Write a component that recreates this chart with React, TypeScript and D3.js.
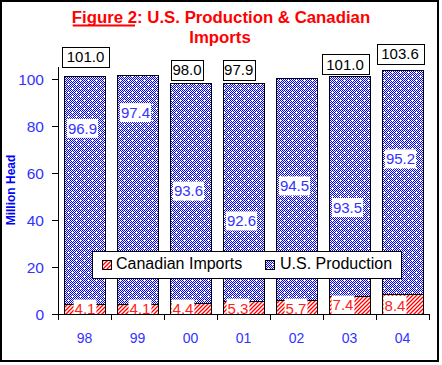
import React from 'react';
import * as d3 from 'd3';

// chart data
const years = ['98', '99', '00', '01', '02', '03', '04'];
const usProduction = [96.9, 97.4, 93.6, 92.6, 94.5, 93.5, 95.2];
const canadianImports = [4.1, 4.1, 4.4, 5.3, 5.7, 7.4, 8.4];
const totalLabels = ['101.0', null, '98.0', '97.9', null, '101.0', '103.6'];
const yTicks = [0, 20, 40, 60, 80, 100];

// hand placed labels (like in the original sheet): px nudges / value positions
const totalNudge = [[1, -19.6], [0, 0], [-3.5, -13.7], [-4.8, -14], [0, 0], [-4.5, -12.6], [-2.5, -16.5]];
const usLabelAt = [79, 85.7, 52.3, 39.6, 54.5, 45.3, 66];
const canLabelDx = [0.5, 2.5, -7.5, -5.5, -0.5, -6.5, -7.5];
const canLabelAt = [2.1, 2.1, 2.1, 2.5, 2.5, 3.8, 3.7];

const W = 442;
const H = 365;
const BLUE = '#3333ff';
const RED = '#ff2020';
const LABEL_FONT = 15;

// rough text width for Arial digits
const textW = (s: string, size: number) =>
  s.split('').reduce((a, c) => a + (c === '.' ? 0.278 : 0.556) * size, 0);

export default function App() {
  const x = d3
    .scaleBand<string>()
    .domain(years)
    .range([58, 429])
    .paddingInner(12 / 53)
    .paddingOuter(6 / 53);
  const y = d3.scaleLinear().domain([0, 105]).range([314, 67.25]);
  const bw = x.bandwidth();
  const step = x.step();
  const x0 = x.range()[0];

  const font = 'Arial, "Liberation Sans", sans-serif';

  // 8x8 checker pattern with white dots for U.S. production
  const checker: [number, number][] = [];
  for (let i = 0; i < 8; i++) {
    for (let j = 0; j < 8; j++) {
      if ((i + j) % 2 === 0 && !((i === 0 && j === 0) || (i === 4 && j === 4))) checker.push([i, j]);
    }
  }

  return (
    <svg
      width={W}
      height={H}
      style={{ position: 'absolute', left: 0, top: 0, background: '#fff' }}
      fontFamily={font}
    >
      <defs>
        <pattern id="usPat" width={8} height={8} patternUnits="userSpaceOnUse">
          <rect width={8} height={8} fill="#fff" />
          {checker.map(([i, j]) => (
            <rect key={i + '-' + j} x={i} y={j} width={1} height={1} fill="#0000ff" shapeRendering="crispEdges" />
          ))}
        </pattern>
        <pattern id="canPat" width={4} height={4} patternUnits="userSpaceOnUse">
          <rect width={4} height={4} fill="#fff" />
          <path d="M-1,1 L1,-1 M0,4 L4,0 M3,5 L5,3" stroke="#ff0000" strokeWidth={1.3} />
        </pattern>
      </defs>

      <rect x={1} y={1} width={437} height={360} fill="#fff" stroke="#000" strokeWidth={2} />

      {/* title */}
      <text x={221} y={22.5} textAnchor="middle" fill="#ff0000" fontWeight="bold" fontSize={16.8}>
        Figure 2: U.S. Production &amp; Canadian
      </text>
      <line x1={72.7} x2={135} y1={25.5} y2={25.5} stroke="#ff0000" strokeWidth={2} />
      <text x={220} y={43.3} textAnchor="middle" fill="#ff0000" fontWeight="bold" fontSize={16.8}>
        Imports
      </text>

      {/* y axis title */}
      <text
        transform="translate(15,190) rotate(-90)"
        textAnchor="middle"
        fill="#0000ff"
        fontWeight="bold"
        fontSize={12}
      >
        Million Head
      </text>

      {/* bars */}
      {years.map((yr, i) => {
        const c = canadianImports[i];
        const t = c + usProduction[i];
        return (
          <g key={yr} shapeRendering="crispEdges">
            <rect x={x(yr)} y={y(t)} width={bw} height={y(c) - y(t)} fill="url(#usPat)" stroke="#000" />
            <rect x={x(yr)} y={y(c)} width={bw} height={y(0) - y(c)} fill="url(#canPat)" stroke="#000" />
          </g>
        );
      })}

      {/* U.S. production labels */}
      {years.map((yr, i) => {
        const s = usProduction[i].toFixed(1);
        const cx = (x(yr) as number) + bw / 2 - 2;
        const cy = y(usLabelAt[i]);
        const tw = textW(s, LABEL_FONT);
        return (
          <g key={'us' + yr}>
            <rect x={cx - tw / 2 - 1} y={cy - 9.5} width={tw + 2} height={19} fill="#fff" />
            <text x={cx} y={cy + 5.4} textAnchor="middle" fill={BLUE} fontSize={LABEL_FONT}>
              {s}
            </text>
          </g>
        );
      })}

      {/* Canadian labels */}
      {years.map((yr, i) => {
        const s = canadianImports[i].toFixed(1);
        const cx = (x(yr) as number) + bw / 2 + canLabelDx[i];
        const cy = y(canLabelAt[i]);
        const tw = textW(s, LABEL_FONT);
        return (
          <g key={'can' + yr}>
            <rect x={cx - tw / 2 - 1} y={cy - 9.5} width={tw + 2} height={19} fill="#fff" />
            <text x={cx} y={cy + 5.4} textAnchor="middle" fill={RED} fontSize={LABEL_FONT}>
              {s}
            </text>
          </g>
        );
      })}

      {/* total labels */}
      {years.map((yr, i) => {
        const s = totalLabels[i];
        if (!s) return null;
        const t = canadianImports[i] + usProduction[i];
        const cx = (x(yr) as number) + bw / 2 + totalNudge[i][0];
        const cy = y(t) + totalNudge[i][1];
        const tw = textW(s, LABEL_FONT) + (s.length > 4 ? 9 : 3);
        return (
          <g key={'tot' + yr}>
            <rect
              x={Math.round(cx - tw / 2) + 0.5}
              y={Math.round(cy - 10) + 0.5}
              width={Math.round(tw)}
              height={20}
              fill="#fff"
              stroke="#000"
            />
            <text x={cx} y={cy + 5.4} textAnchor="middle" fill="#000" fontSize={LABEL_FONT}>
              {s}
            </text>
          </g>
        );
      })}

      {/* axes */}
      <g stroke="#000" shapeRendering="crispEdges">
        <line x1={58} x2={58} y1={y(105)} y2={y(0)} />
        {yTicks.map((t) => (
          <line key={t} x1={52} x2={58} y1={y(t)} y2={y(t)} />
        ))}
        <line x1={58} x2={429} y1={y(0)} y2={y(0)} />
        {d3.range(years.length + 1).map((i) => (
          <line key={i} x1={x0 + i * step} x2={x0 + i * step} y1={y(0)} y2={y(0) + 6} />
        ))}
      </g>
      {yTicks.map((t) => (
        <text key={t} x={44} y={y(t) + 5.6} textAnchor="end" fill={BLUE} fontSize={15.5}>
          {t}
        </text>
      ))}
      {years.map((yr) => (
        <text key={yr} x={(x(yr) as number) + bw / 2} y={343} textAnchor="middle" fill={BLUE} fontSize={14}>
          {yr}
        </text>
      ))}

      {/* legend */}
      <rect x={92.5} y={251.5} width={309} height={27} fill="#fff" stroke="#000" shapeRendering="crispEdges" />
      <rect x={102.5} y={260.5} width={9} height={9} fill="url(#canPat)" stroke="#000" shapeRendering="crispEdges" />
      <text x={116} y={268.5} fill="#000" fontSize={16}>
        Canadian Imports
      </text>
      <rect x={265.5} y={260.5} width={9} height={9} fill="url(#usPat)" stroke="#000" shapeRendering="crispEdges" />
      <text x={280} y={268.5} fill="#000" fontSize={16}>
        U.S. Production
      </text>
    </svg>
  );
}
